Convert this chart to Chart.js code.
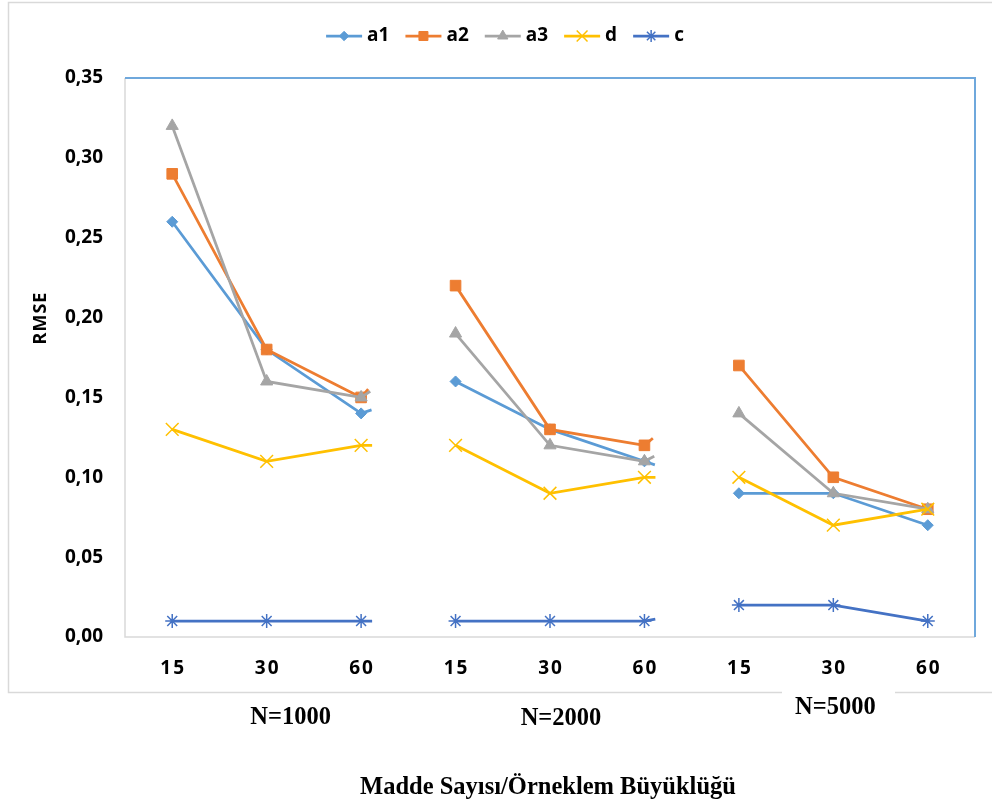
<!DOCTYPE html>
<html>
<head>
<meta charset="utf-8">
<script src="https://cdn.jsdelivr.net/npm/chart.js@4.4.1/dist/chart.umd.min.js"></script>
<style>
  html, body { margin: 0; padding: 0; background: #ffffff; }
  #wrap { width: 992px; height: 810px; position: relative; }
</style>
</head>
<body>
<div id="wrap"><canvas id="chart" width="992" height="810"></canvas></div>
<script>
// Item counts within each sample-size group
const itemCounts = ['15', '30', '60', '15', '30', '60', '15', '30', '60'];
const groupLabels = ['N=1000', 'N=2000', 'N=5000'];
const yTicks = [0, 0.05, 0.10, 0.15, 0.20, 0.25, 0.30, 0.35];

// RMSE per parameter
const a1 = [0.26, 0.18, 0.14, 0.16, 0.13, 0.11, 0.09, 0.09, 0.07];
const a2 = [0.29, 0.18, 0.15, 0.22, 0.13, 0.12, 0.17, 0.10, 0.08];
const a3 = [0.32, 0.16, 0.15, 0.19, 0.12, 0.11, 0.14, 0.09, 0.08];
const d  = [0.13, 0.11, 0.12, 0.12, 0.09, 0.10, 0.10, 0.07, 0.08];
const c  = [0.01, 0.01, 0.01, 0.01, 0.01, 0.01, 0.02, 0.02, 0.01];

const yTitle = 'RMSE';
const xTitle = 'Madde Sayısı/Örneklem Büyüklüğü';

const sansFamily = '"Open Sans", "DejaVu Sans", sans-serif';
const tickFont = { family: sansFamily, weight: 'bold', size: 19 };
const serifFont = '"Liberation Serif", "DejaVu Serif", serif';

// between sample-size groups only a short stub of the line is drawn
const isGroupBreak = ctx => ctx.p0DataIndex % 3 === 2;
const breakDash = ctx => (isGroupBreak(ctx) ? [11, 4000] : undefined);

function series(label, data, color, style, radius, order) {
  return {
    label, data, order,
    borderColor: color,
    backgroundColor: color,
    borderWidth: 2.75,
    pointStyle: style,
    pointRadius: radius,
    pointHoverRadius: radius,
    pointBorderColor: color,
    pointBackgroundColor: color,
    pointBorderWidth: (style === 'crossRot' || style === 'star') ? 1.5 : 1,
    tension: 0,
    segment: { borderDash: breakDash }
  };
}

const datasets = [
  series('a1', a1, '#5B9BD5', 'rectRot', 5.5, 5),
  series('a2', a2, '#ED7D31', 'rect', 7.5, 4),
  series('a3', a3, '#A5A5A5', 'triangle', 7, 3),
  series('d',  d,  '#FFC000', 'crossRot', 9, 2),
  series('c',  c,  '#4472C4', 'star', 7, 1)
];

// wrap a scale's label drawing so its text gets extra tracking
function spaced(scale, spacing) {
  if (scale._spacedLabels) return;
  scale._spacedLabels = true;
  const original = scale.drawLabels.bind(scale);
  scale.drawLabels = function (area) {
    const ctx = this.ctx;
    ctx.save();
    ctx.letterSpacing = spacing;
    ctx.translate(parseFloat(spacing) / 2, 0);
    original(area);
    ctx.restore();
  };
}

const decorations = {
  id: 'decorations',
  beforeDraw(chart) {
    const { ctx, chartArea: a } = chart;
    ctx.save();
    ctx.fillStyle = '#ffffff';
    ctx.fillRect(0, 0, chart.width, chart.height);
    // outer frame
    ctx.strokeStyle = '#D9D9D9';
    ctx.lineWidth = 1.5;
    ctx.strokeRect(8.5, 2.5, 1000, 690);
    // gap behind the N=5000 label
    ctx.fillStyle = '#ffffff';
    ctx.fillRect(782, 688, 113, 10);
    // plot area frame: gray left/bottom, blue top/right
    ctx.lineWidth = 1.5;
    ctx.strokeStyle = '#D9D9D9';
    ctx.beginPath();
    ctx.moveTo(a.left, a.top);
    ctx.lineTo(a.left, a.bottom);
    ctx.lineTo(a.right, a.bottom);
    ctx.stroke();
    ctx.strokeStyle = '#6FA8DC';
    ctx.lineWidth = 2;
    ctx.beginPath();
    ctx.moveTo(a.left, a.top);
    ctx.lineTo(a.right, a.top);
    ctx.lineTo(a.right, a.bottom);
    ctx.stroke();
    ctx.restore();
  },
  afterDraw(chart) {
    const { ctx, scales } = chart;
    ctx.save();
    // y axis title
    ctx.fillStyle = '#000000';
    ctx.font = 'bold 18px ' + sansFamily;
    ctx.letterSpacing = '1px';
    ctx.textAlign = 'center';
    ctx.textBaseline = 'middle';
    ctx.translate(41, 318);
    ctx.rotate(-Math.PI / 2);
    ctx.fillText(yTitle, 0, 0);
    ctx.restore();

    // group labels under each triple of categories
    ctx.save();
    ctx.fillStyle = '#000000';
    ctx.font = 'bold 24.5px ' + serifFont;
    ctx.textAlign = 'center';
    ctx.textBaseline = 'middle';
    const groupShift = [24, 11, 2];
    const groupY = [718, 719, 708];
    groupLabels.forEach((g, i) => {
      const x = scales.x.getPixelForValue(i * 3 + 1) + groupShift[i];
      ctx.fillText(g, x, groupY[i]);
    });
    ctx.fillText(xTitle, 548, 788);
    ctx.restore();

    // legend: line sample with marker, then label
    ctx.save();
    ctx.font = 'bold 19px ' + sansFamily;
    ctx.textBaseline = 'middle';
    const lineLen = 36, gapText = 5, gapItem = 16, ly = 36;
    const widths = datasets.map(ds => lineLen + gapText + ctx.measureText(ds.label).width);
    const total = widths.reduce((s, w) => s + w, 0) + gapItem * (datasets.length - 1);
    let x = 505 - total / 2;
    datasets.forEach((ds, i) => {
      ctx.strokeStyle = ds.borderColor;
      ctx.lineWidth = ds.borderWidth;
      ctx.beginPath();
      ctx.moveTo(x, ly);
      ctx.lineTo(x + lineLen, ly);
      ctx.stroke();
      ctx.fillStyle = ds.pointBackgroundColor;
      ctx.lineWidth = ds.pointBorderWidth;
      Chart.helpers.drawPoint(ctx, {
        pointStyle: ds.pointStyle,
        radius: ds.pointRadius * 0.85,
        rotation: 0,
        borderWidth: ds.pointBorderWidth
      }, x + lineLen / 2, ly);
      ctx.fillStyle = '#000000';
      ctx.textAlign = 'left';
      ctx.fillText(ds.label, x + lineLen + gapText, ly);
      x += widths[i] + gapItem;
    });
    ctx.restore();
  }
};

new Chart(document.getElementById('chart'), {
  type: 'line',
  data: { labels: itemCounts, datasets },
  options: {
    responsive: false,
    animation: false,
    events: [],
    layout: { padding: { left: 0, right: 17, top: 78, bottom: 0 } },
    plugins: { legend: { display: false }, tooltip: { enabled: false } },
    scales: {
      x: {
        offset: true,
        grid: { display: false, drawTicks: false },
        border: { display: false },
        ticks: {
          font: tickFont, color: '#000000', padding: 20,
          maxRotation: 0, autoSkip: false
        },
        afterFit(scale) { scale.height = 173; spaced(scale, '2px'); }
      },
      y: {
        min: 0, max: 0.35,
        grid: { display: false, drawTicks: false },
        border: { display: false },
        afterBuildTicks(scale) { scale.ticks = yTicks.map(v => ({ value: v })); },
        ticks: {
          font: tickFont, color: '#000000', padding: 22,
          callback: v => v.toFixed(2).replace('.', ',')
        },
        afterFit(scale) { scale.width = 125; }
      }
    }
  },
  plugins: [decorations]
});
</script>
</body>
</html>
